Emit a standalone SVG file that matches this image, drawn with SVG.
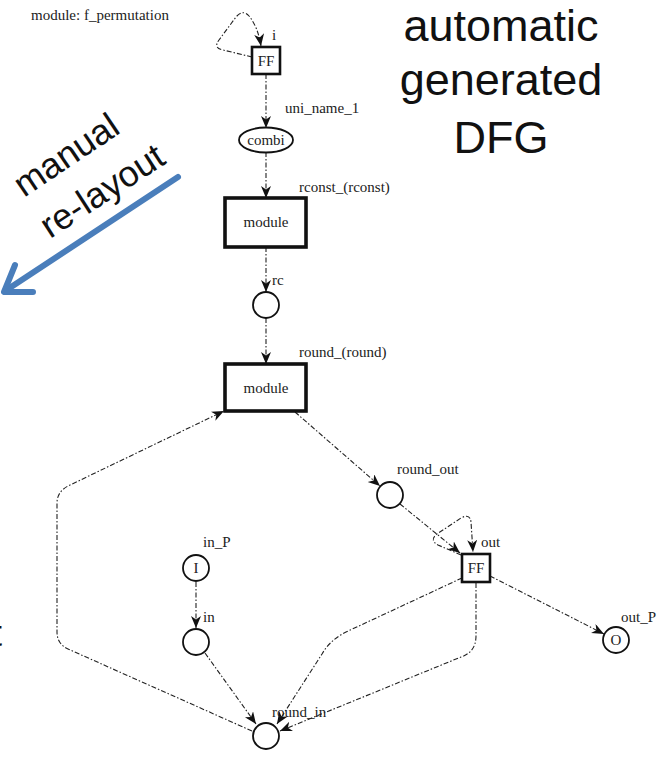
<svg xmlns="http://www.w3.org/2000/svg" width="663" height="758" viewBox="0 0 663 758">
  <defs>
    <marker id="arrow" markerUnits="userSpaceOnUse" markerWidth="13" markerHeight="11" refX="12" refY="5" orient="auto">
      <path d="M0,0 L12,5 L0,10 L3.5,5 Z" fill="#111"/>
    </marker>
  </defs>
  <style>
    .lbl { font-family: "Liberation Serif", "Times New Roman", serif; font-size: 15px; fill: #222; }
    .in { text-anchor: middle; dominant-baseline: central; }
    .edge { fill: none; stroke: #222; stroke-width: 1.1; stroke-dasharray: 5 2 1.5 2; marker-end: url(#arrow); }
    .ff { fill: #fff; stroke: #111; stroke-width: 2.6; }
    .mod { fill: #fff; stroke: #111; stroke-width: 3.6; }
    .port { fill: #fff; stroke: #111; stroke-width: 1.8; }
    .big { font-family: "Liberation Sans", Arial, sans-serif; font-size: 45px; fill: #111; }
    .note { font-family: "Liberation Sans", Arial, sans-serif; font-size: 36px; fill: #111; }
  </style>
  <rect width="663" height="758" fill="#fff"/>

  <text class="lbl" x="31" y="20">module: f_permutation</text>

  <!-- side annotations -->
  <g id="title">
    <text class="big" x="501" y="41" text-anchor="middle">automatic</text>
    <text class="big" x="501" y="95" text-anchor="middle">generated</text>
    <text class="big" x="501" y="153" text-anchor="middle">DFG</text>
  </g>
  <g id="relayout">
    <text class="note" transform="translate(24,198) rotate(-34)">manual</text>
    <text class="note" transform="translate(50,239) rotate(-33)">re-layout</text>
    <line x1="178" y1="177" x2="5" y2="291" stroke="#4A7EBB" stroke-width="6" stroke-linecap="round"/>
    <polyline points="15,265 4,292 33,292" fill="none" stroke="#4A7EBB" stroke-width="6" stroke-linecap="round" stroke-linejoin="round"/>
  </g>
  <text class="note" x="-8" y="646" font-size="20">t</text>

  <!-- connectors -->
  <g id="connectors">
    <path class="edge" d="M252,57 L223,50 Q213,48 219,40 L236,17 Q243,9 249,16 Q258,27 261,46"/>
    <path class="edge" d="M266,74 L266,128"/>
    <path class="edge" d="M266,152 L266,198"/>
    <path class="edge" d="M266,247 L266,292"/>
    <path class="edge" d="M266,318 L266,364"/>
    <path class="edge" d="M295,412 L380,486"/>
    <path class="edge" d="M400,504 L460,553"/>
    <path class="edge" d="M461,555 L438,545 Q429,540 437,534 L461,518 Q470,513 471,522 L473,552"/>
    <path class="edge" d="M490,576 L604,634"/>
    <path class="edge" d="M462,578 L346,632 Q330,640 322,654 L277,724"/>
    <path class="edge" d="M476,583 L476,636 Q476,652 461,657 L280,731"/>
    <path class="edge" d="M196,582 L196,628"/>
    <path class="edge" d="M205,653 L256,724"/>
    <path class="edge" d="M252,731 L68,649 Q57,644 57,632 L57,503 Q57,492 68,486 L224,411"/>
  </g>

  <!-- nodes -->
  <g id="ff_i">
    <rect class="ff" x="252" y="47" width="28" height="27"/>
    <text class="lbl in" x="266" y="61" font-size="16">FF</text>
    <text class="lbl" x="272" y="40">i</text>
  </g>
  <g id="uni_name_1">
    <ellipse class="port" cx="266" cy="140" rx="27" ry="12.5"/>
    <text class="lbl in" x="266" y="140">combi</text>
    <text class="lbl" x="285" y="113">uni_name_1</text>
  </g>
  <g id="rconst">
    <rect class="mod" x="225" y="198" width="81" height="49"/>
    <text class="lbl in" x="266" y="222">module</text>
    <text class="lbl" x="299" y="192">rconst_(rconst)</text>
  </g>
  <g id="rc">
    <circle class="port" cx="266" cy="305" r="13"/>
    <text class="lbl" x="272" y="285">rc</text>
  </g>
  <g id="round">
    <rect class="mod" x="225" y="364" width="81" height="47"/>
    <text class="lbl in" x="266" y="388">module</text>
    <text class="lbl" x="299" y="357">round_(round)</text>
  </g>
  <g id="round_out">
    <circle class="port" cx="390" cy="495" r="13"/>
    <text class="lbl" x="397" y="474">round_out</text>
  </g>
  <g id="ff_out">
    <rect class="ff" x="462" y="554" width="28" height="28"/>
    <text class="lbl in" x="476" y="568" font-size="16">FF</text>
    <text class="lbl" x="481" y="547">out</text>
  </g>
  <g id="out_P">
    <circle class="port" cx="616" cy="640" r="13"/>
    <text class="lbl in" x="616" y="640">O</text>
    <text class="lbl" x="621" y="622">out_P</text>
  </g>
  <g id="in_P">
    <circle class="port" cx="196" cy="568" r="13"/>
    <text class="lbl in" x="196" y="568">I</text>
    <text class="lbl" x="203" y="547">in_P</text>
  </g>
  <g id="in">
    <circle class="port" cx="196" cy="642" r="13"/>
    <text class="lbl" x="203" y="622">in</text>
  </g>
  <g id="round_in">
    <circle class="port" cx="266" cy="736" r="13"/>
    <text class="lbl" x="272" y="717">round_in</text>
  </g>
</svg>
